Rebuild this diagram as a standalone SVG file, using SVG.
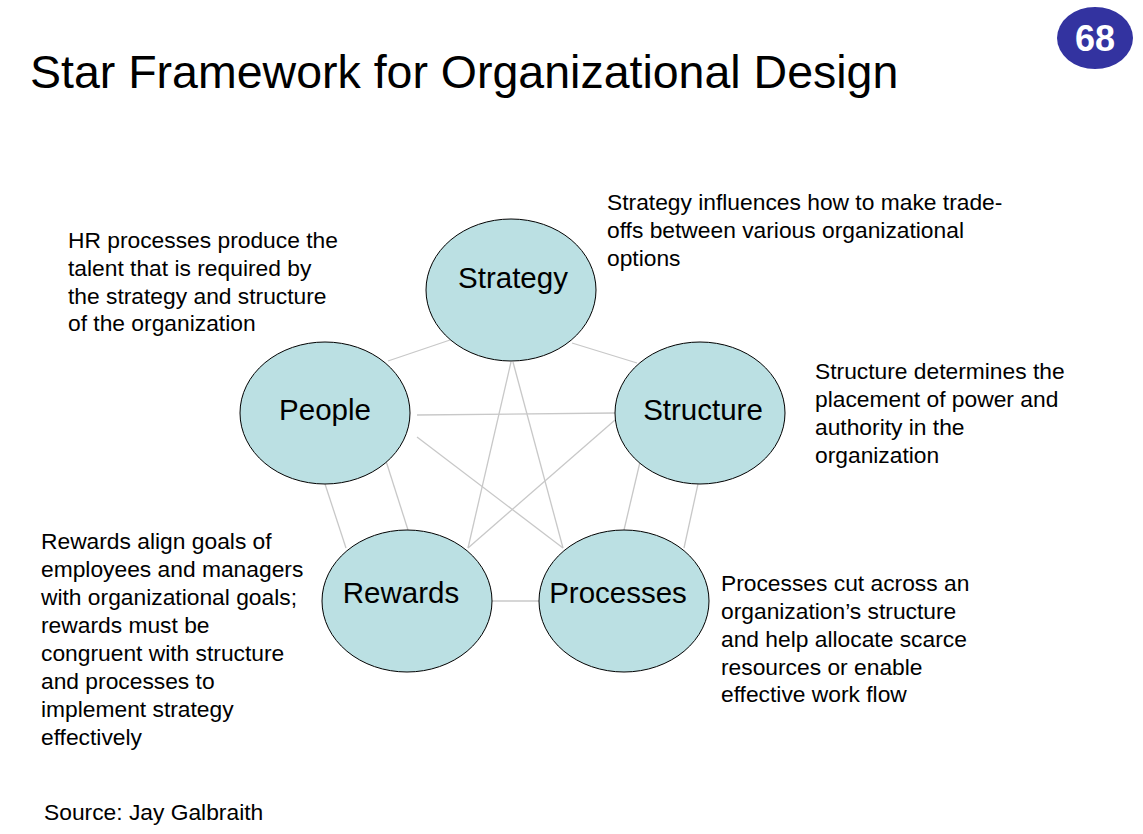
<svg xmlns="http://www.w3.org/2000/svg" width="1143" height="834" viewBox="0 0 1143 834">
<style>
text{font-family:"Liberation Sans",Arial,sans-serif;fill:#000}
.title{font-size:46.5px}
.body{font-size:22.8px}
.node ellipse{fill:#bbe0e3;stroke:#000;stroke-width:1}
.node text{font-size:29.5px;text-anchor:middle}
#connectors line{stroke:#c8c8c8;stroke-width:1.3}
</style>
<rect width="1143" height="834" fill="#fff"/>
<text class="title" x="30" y="88">Star Framework for Organizational Design</text>
<g id="badge">
<ellipse cx="1095" cy="38" rx="38" ry="31" fill="#3333a0"/>
<text x="1095" y="51" style="font-size:36px;font-weight:bold;fill:#fff;text-anchor:middle">68</text>
</g>
<g id="connectors">
<line x1="450" y1="340" x2="388" y2="361"/>
<line x1="572" y1="343" x2="637" y2="363"/>
<line x1="511" y1="362" x2="468" y2="548"/>
<line x1="513" y1="362" x2="563" y2="548"/>
<line x1="417" y1="415" x2="615" y2="413"/>
<line x1="417" y1="437" x2="563" y2="548"/>
<line x1="615" y1="420" x2="468" y2="548"/>
<line x1="325" y1="484" x2="346" y2="548"/>
<line x1="386" y1="461" x2="408" y2="530"/>
<line x1="640" y1="462" x2="624" y2="530"/>
<line x1="698" y1="484" x2="684" y2="548"/>
<line x1="492" y1="601" x2="539" y2="601"/>
</g>
<g id="strategy" class="node"><ellipse cx="511" cy="290" rx="85" ry="71"/><text x="513" y="288">Strategy</text></g>
<g id="people" class="node"><ellipse cx="325" cy="413" rx="85" ry="71"/><text x="325" y="420">People</text></g>
<g id="structure" class="node"><ellipse cx="700" cy="413" rx="85" ry="71"/><text x="703" y="420">Structure</text></g>
<g id="rewards" class="node"><ellipse cx="407" cy="601" rx="85" ry="71"/><text x="401" y="603">Rewards</text></g>
<g id="processes" class="node"><ellipse cx="624" cy="601" rx="85" ry="71"/><text x="618" y="603">Processes</text></g>
<g id="notes" class="body">
<text x="68" y="248">HR processes produce the</text>
<text x="68" y="276">talent that is required by</text>
<text x="68" y="304">the strategy and structure</text>
<text x="68" y="331">of the organization</text>
<text x="607" y="210">Strategy influences how to make trade-</text>
<text x="607" y="238">offs between various organizational</text>
<text x="607" y="266">options</text>
<text x="815" y="379">Structure determines the</text>
<text x="815" y="407">placement of power and</text>
<text x="815" y="435">authority in the</text>
<text x="815" y="463">organization</text>
<text x="41" y="549">Rewards align goals of</text>
<text x="41" y="577">employees and managers</text>
<text x="41" y="605">with organizational goals;</text>
<text x="41" y="633">rewards must be</text>
<text x="41" y="661">congruent with structure</text>
<text x="41" y="689">and processes to</text>
<text x="41" y="717">implement strategy</text>
<text x="41" y="745">effectively</text>
<text x="721" y="591">Processes cut across an</text>
<text x="721" y="619">organization’s structure</text>
<text x="721" y="647">and help allocate scarce</text>
<text x="721" y="675">resources or enable</text>
<text x="721" y="702">effective work flow</text>
<text x="44" y="820">Source: Jay Galbraith</text>
</g>
</svg>
